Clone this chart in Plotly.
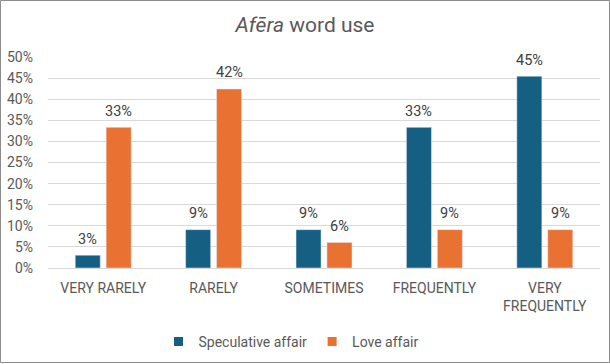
import plotly.graph_objects as go

categories = ["VERY RARELY", "RARELY", "SOMETIMES", "FREQUENTLY", "VERY<br>FREQUENTLY"]
speculative = [3.03, 9.09, 9.09, 33.33, 45.45]
love = [33.33, 42.42, 6.06, 9.09, 9.09]
series_names = ["Speculative affair", "Love affair"]
series_colors = ["#156082", "#E97132"]
tick_vals = [0, 5, 10, 15, 20, 25, 30, 35, 40, 45, 50]
tick_text = [f"{v}%" for v in tick_vals]

W, H = 610, 364
L, R, T, B = 48, 10, 57, 96
FONT = "Roboto, Arial, sans-serif"

fig = go.Figure()
for name, vals, col in zip(series_names, [speculative, love], series_colors):
    fig.add_trace(go.Bar(
        x=categories, y=vals, name=name, marker_color=col, showlegend=False,
    ))
for name, col in zip(series_names, series_colors):
    fig.add_trace(go.Scatter(
        x=[None], y=[None], mode="markers", name=name,
        marker=dict(symbol="square", size=9, color=col), showlegend=True,
    ))

# data labels
annotations = []
for vals, shift in zip([speculative, love], [-15.5, 15.5]):
    for c, v in zip(categories, vals):
        annotations.append(dict(
            x=c, y=v, xref="x", yref="y", text=f"{round(v)}%", showarrow=False,
            xshift=shift, yshift=16, yanchor="middle", xanchor="center",
            font=dict(size=14.5, color="#404040", family=FONT),
        ))

pw = W - L - R
ph = H - T - B
def px_x(p):
    return (p - L) / pw
def px_y(p):
    return (H - B - p) / ph

fig.update_layout(
    width=W, height=H,
    margin=dict(l=L, r=R, t=T, b=B, autoexpand=False),
    paper_bgcolor="white", plot_bgcolor="white",
    font=dict(family=FONT, size=14, color="#595959"),
    title=dict(text="<i>Afēra</i> word use", x=0.5, xanchor="center",
               y=1 - 25 / H, yanchor="middle",
               font=dict(size=21, color="#595959", family=FONT)),
    barmode="group", bargap=0.44, bargroupgap=0.19,
    showlegend=True,
    legend=dict(orientation="h", x=px_x(291), xanchor="center", y=px_y(342), yanchor="middle",
                font=dict(size=14, color="#595959"), itemwidth=30,
                traceorder="normal"),
    xaxis=dict(showline=True, linecolor="#d9d9d9", linewidth=1, ticks="",
               ticklabelstandoff=7,
               tickfont=dict(size=14, color="#595959"), showgrid=False, automargin=False),
    yaxis=dict(range=[0, 50], tickvals=tick_vals, ticktext=tick_text,
               showgrid=True, gridcolor="#d9d9d9", gridwidth=1, zeroline=False,
               showline=False, ticks="", ticklabelstandoff=14, automargin=False,
               tickfont=dict(size=14, color="#595959")),
    annotations=annotations,
    shapes=[dict(type="rect", xref="paper", yref="paper",
                 x0=px_x(0.5), x1=px_x(W - 0.5), y0=px_y(H - 1.5), y1=px_y(0.5),
                 line=dict(color="#8c8c8c", width=1), fillcolor="rgba(0,0,0,0)",
                 layer="below")],
)

fig.write_html("out.html", config={"displayModeBar": False},
               post_script="document.body.style.margin='0';document.body.style.overflow='hidden';")
